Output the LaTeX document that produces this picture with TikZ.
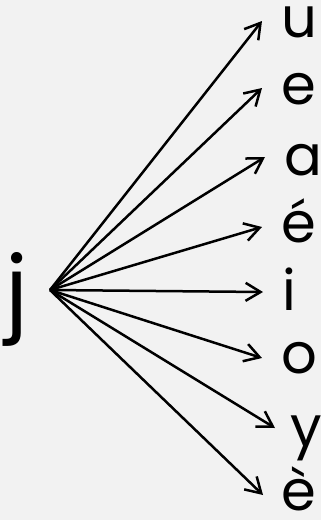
\documentclass[tikz,border=0pt]{standalone}
\usepackage{fontspec}
\setmainfont{Poppins}
\usetikzlibrary{arrows.meta}
\definecolor{bg}{RGB}{242,242,242}
\begin{document}
\begin{tikzpicture}[x=1pt,y=-1pt,
  lbl/.style={anchor=base,inner sep=0pt,font=\fontsize{56}{60}\selectfont},
  big/.style={anchor=base,inner sep=0pt,font=\fontsize{92}{100}\selectfont},
  arr/.style={line width=2.5pt,-{Straight Barb[length=15pt,width=18pt,line width=2.5pt]}}]
\fill[bg] (0,0) rectangle (321,520);
\useasboundingbox (0,0) rectangle (321,520);
\node[big] (j) at (17,322) {j};
\coordinate (r) at (50,290);
\node[lbl] (u) at (299,37) {u};
\node[lbl] (e) at (299,104) {e};
\node[lbl] (a) at (303,175) {a};
\node[lbl] (ea) at (299,242) {é};
\node[lbl] (i) at (289,310) {i};
\node[lbl] (o) at (299,373) {o};
\node[lbl] (y) at (306,446) {y};
\node[lbl] (eg) at (299,510) {è};
\coordinate (tu) at (262,21);
\coordinate (te) at (262,88);
\coordinate (ta) at (265,157);
\coordinate (tea) at (262,227);
\coordinate (ti) at (263,292);
\coordinate (to) at (262,358);
\coordinate (ty) at (275,428);
\coordinate (teg) at (263,495);
\foreach \t in {tu,te,ta,tea,ti,to,ty,teg} \draw[arr] (r) -- (\t);
\end{tikzpicture}
\end{document}
